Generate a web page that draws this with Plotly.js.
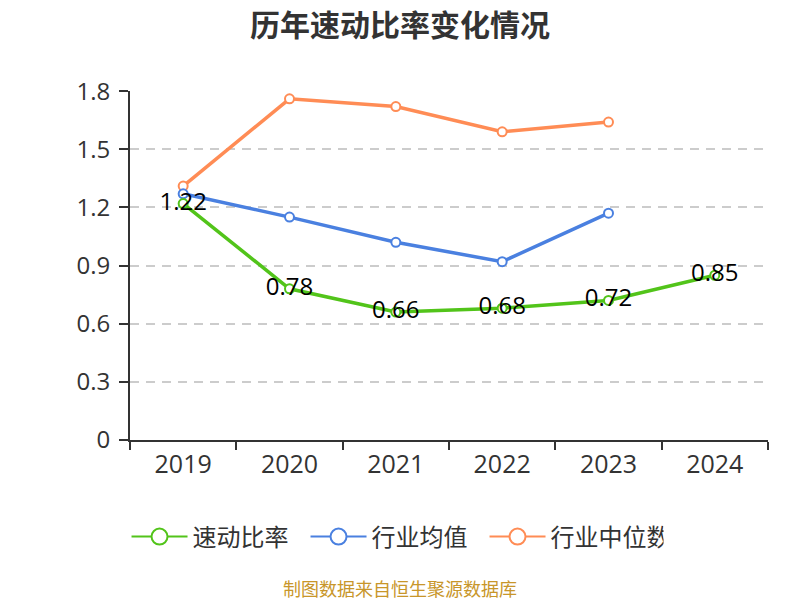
<!DOCTYPE html>
<html>
<head>
<meta charset="utf-8">
<script src="https://cdn.plot.ly/plotly-3.0.1.min.js"></script>
<style>html,body{margin:0;padding:0;background:#fff}#chart{width:800px;height:600px}</style>
</head>
<body>
<div id="chart"></div>
<script>
const years = ['2019','2020','2021','2022','2023','2024'];
const quickRatio = [1.22, 0.78, 0.66, 0.68, 0.72, 0.85];
const industryMean = [1.27, 1.15, 1.02, 0.92, 1.17, null];
const industryMedian = [1.31, 1.76, 1.72, 1.59, 1.64, null];
const seriesNames = ['速动比率', '行业均值', '行业中位数'];
const colors = ['#52c41a', '#4a80e0', '#ff8c55'];
const yTicks = [0, 0.3, 0.6, 0.9, 1.2, 1.5, 1.8];
const yTickText = ['0', '0.3', '0.6', '0.9', '1.2', '1.5', '1.8'];

const CJK = '"Noto Sans CJK SC", "Noto Sans", sans-serif';
const NUM = '"Open Sans", "Noto Sans", sans-serif';

function lineTrace(name, y, color) {
  return {
    type: 'scatter', mode: 'lines+markers', name: name,
    x: years, y: y,
    line: {color: color, width: 3.5},
    marker: {size: 9, color: '#fff', line: {color: color, width: 2}},
    showlegend: false, cliponaxis: false, hoverinfo: 'skip'
  };
}
function legendTrace(name, color) {
  return {
    type: 'scatter', mode: 'lines+markers', name: name,
    x: [null], y: [null],
    line: {color: color, width: 2},
    marker: {size: 24, color: '#fff', line: {color: color, width: 2}},
    showlegend: true, hoverinfo: 'skip'
  };
}

const traces = [
  lineTrace(seriesNames[2], industryMedian, colors[2]),
  lineTrace(seriesNames[1], industryMean, colors[1]),
  lineTrace(seriesNames[0], quickRatio, colors[0]),
  {
    type: 'scatter', mode: 'text', x: years, y: quickRatio,
    text: quickRatio.map(v => v.toFixed(2)),
    textposition: 'middle center',
    textfont: {family: NUM, size: 24, color: '#000'},
    showlegend: false, hoverinfo: 'skip', cliponaxis: false
  },
  legendTrace(seriesNames[0], colors[0]),
  legendTrace(seriesNames[1], colors[1]),
  legendTrace(seriesNames[2], colors[2])
];

const layout = {
  width: 800, height: 600,
  paper_bgcolor: '#fff', plot_bgcolor: '#fff',
  margin: {l: 130, r: 32, t: 91, b: 160},
  font: {family: CJK, color: '#333'},
  title: {
    text: '<b>历年速动比率变化情况</b>',
    font: {family: CJK, size: 30, color: '#333'},
    x: 0.5, xanchor: 'center', y: 0.958, yanchor: 'middle'
  },
  xaxis: {
    type: 'category', categoryorder: 'array', categoryarray: years,
    range: [-0.5, 5.5],
    showgrid: false, zeroline: false,
    showline: true, linecolor: '#333', linewidth: 2,
    ticks: 'outside', tickson: 'boundaries', ticklen: 8, tickcolor: '#333', tickwidth: 2,
    tickfont: {family: NUM, size: 25, color: '#333'},
    ticklabelstandoff: 1,
    fixedrange: true
  },
  yaxis: {
    range: [0, 1.8005], tickvals: yTicks, ticktext: yTickText,
    showgrid: true, gridcolor: '#cccccc', griddash: '9px,7px', gridwidth: 2,
    zeroline: false,
    showline: true, linecolor: '#333', linewidth: 2,
    ticks: 'outside', ticklen: 9, tickcolor: '#333', tickwidth: 2,
    tickfont: {family: NUM, size: 24, color: '#333'},
    ticklabelstandoff: 4,
    fixedrange: true
  },
  legend: {
    orientation: 'h', x: 0.4154, xanchor: 'center', y: -0.278, yanchor: 'middle',
    font: {family: CJK, size: 24, color: '#333'},
    itemwidth: 56, entrywidth: 108
  },
  annotations: [{
    text: '制图数据来自恒生聚源数据库', xref: 'paper', yref: 'paper',
    x: 0.423, xanchor: 'center', y: -0.423, yanchor: 'middle', showarrow: false,
    font: {family: CJK, size: 18, color: '#c8962a'}
  }]
};

Plotly.newPlot('chart', traces, layout, {displayModeBar: false, staticPlot: true});
</script>
</body>
</html>
